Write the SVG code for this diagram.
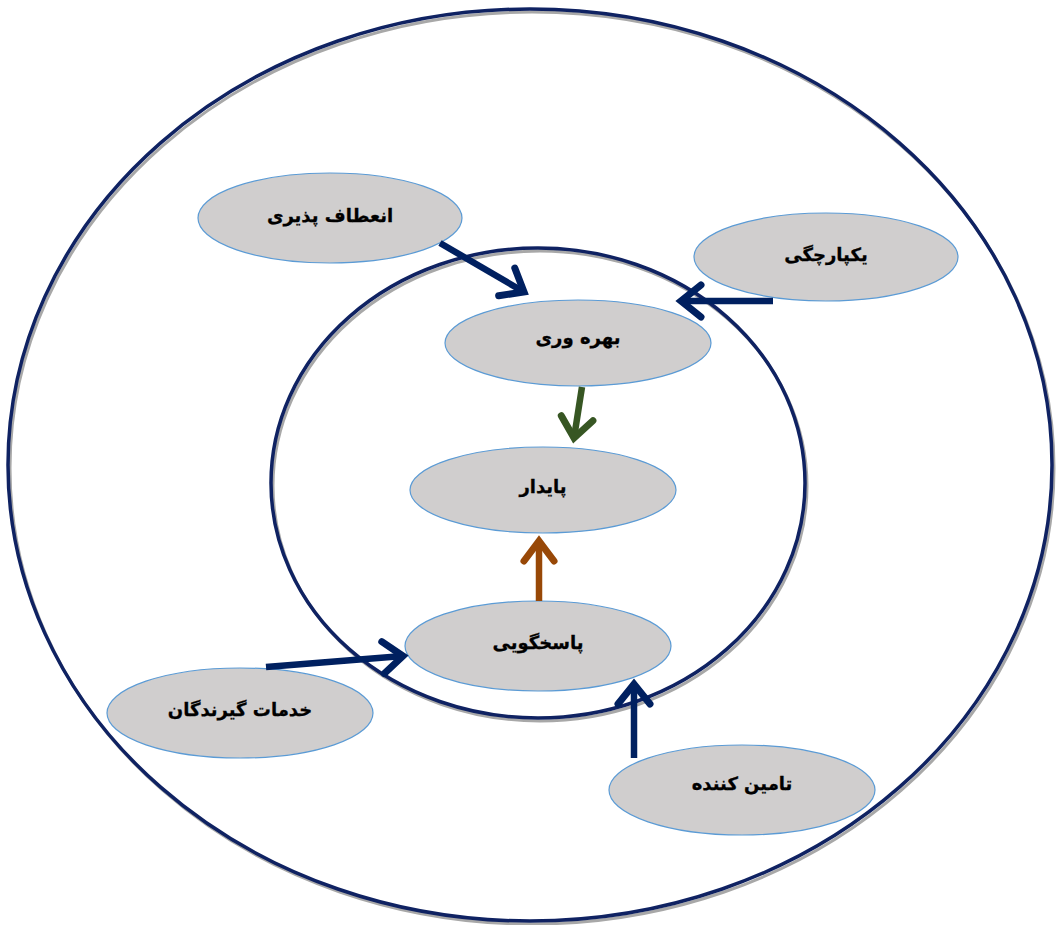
<svg xmlns="http://www.w3.org/2000/svg" width="1056" height="925" viewBox="0 0 1056 925">
<style>
.ring{fill:none;stroke:#0f2262;stroke-width:3.5}
.shadow{fill:none;stroke:#a8a8a8;stroke-width:3}
.node ellipse{fill:#d0cece;stroke:#5b9bd5;stroke-width:1.2}
.node text{font-family:"DejaVu Sans",sans-serif;font-weight:bold;font-size:18px;fill:#000;stroke:#000;stroke-width:0.3;text-anchor:middle;direction:rtl}
.conn{fill:none;stroke-width:6.5}
.navy{stroke:#002060}
.green{stroke:#375623}
.brown{stroke:#984807}
</style>
<defs>
<marker id="hNavy" markerUnits="userSpaceOnUse" markerWidth="60" markerHeight="60" refX="0" refY="0" viewBox="-30 -30 60 60" orient="auto" overflow="visible">
<path d="M-20,-16 L0,0 L-20,16" fill="none" stroke="#002060" stroke-width="7" stroke-linecap="round" stroke-linejoin="miter"/>
</marker>
<marker id="hGreen" markerUnits="userSpaceOnUse" markerWidth="60" markerHeight="60" refX="0" refY="0" viewBox="-30 -30 60 60" orient="auto" overflow="visible">
<path d="M-20,-16 L0,0 L-20,16" fill="none" stroke="#375623" stroke-width="7" stroke-linecap="round" stroke-linejoin="miter"/>
</marker>
<marker id="hBrown" markerUnits="userSpaceOnUse" markerWidth="60" markerHeight="60" refX="0" refY="0" viewBox="-30 -30 60 60" orient="auto" overflow="visible">
<path d="M-20,-15 L0,0 L-20,15" fill="none" stroke="#984807" stroke-width="7" stroke-linecap="round" stroke-linejoin="miter"/>
</marker>
</defs>
<rect width="1056" height="925" fill="#fff"/>
<g id="rings">
<ellipse class="shadow" cx="532" cy="468" rx="522" ry="456"/>
<ellipse class="ring" cx="530" cy="465" rx="522" ry="456"/>
<ellipse class="shadow" cx="540" cy="486" rx="267" ry="235"/>
<ellipse class="ring" cx="538" cy="483" rx="267" ry="235"/>
</g>
<g id="n-flex" class="node"><ellipse cx="330" cy="218" rx="132" ry="45"/><text x="330" y="222">انعطاف پذیری</text></g>
<g id="n-integ" class="node"><ellipse cx="826" cy="257" rx="132" ry="44"/><text x="826" y="261">یکپارچگی</text></g>
<g id="n-prod" class="node"><ellipse cx="578" cy="343" rx="133" ry="43"/><text x="578" y="344">بهره وری</text></g>
<g id="n-sust" class="node"><ellipse cx="543" cy="490" rx="133" ry="43"/><text x="543" y="493">پایدار</text></g>
<g id="n-resp" class="node"><ellipse cx="538" cy="646" rx="133" ry="45"/><text x="538" y="649">پاسخگویی</text></g>
<g id="n-cust" class="node"><ellipse cx="240" cy="713" rx="133" ry="45"/><text x="240" y="716">خدمات گیرندگان</text></g>
<g id="n-supp" class="node"><ellipse cx="742" cy="790" rx="133" ry="45"/><text x="742" y="790">تامین کننده</text></g>
<g id="connectors">
<line class="conn navy" x1="440" y1="243" x2="524" y2="292" marker-end="url(#hNavy)"/>
<line class="conn navy" x1="773" y1="301" x2="681" y2="301" marker-end="url(#hNavy)"/>
<line class="conn green" x1="582" y1="387" x2="574" y2="438" marker-end="url(#hGreen)"/>
<line class="conn brown" x1="539" y1="601" x2="539" y2="541" marker-end="url(#hBrown)"/>
<line class="conn navy" x1="266" y1="667" x2="403" y2="656" marker-end="url(#hNavy)"/>
<line class="conn navy" x1="634" y1="758" x2="634" y2="684" marker-end="url(#hNavy)"/>
</g>
</svg>
